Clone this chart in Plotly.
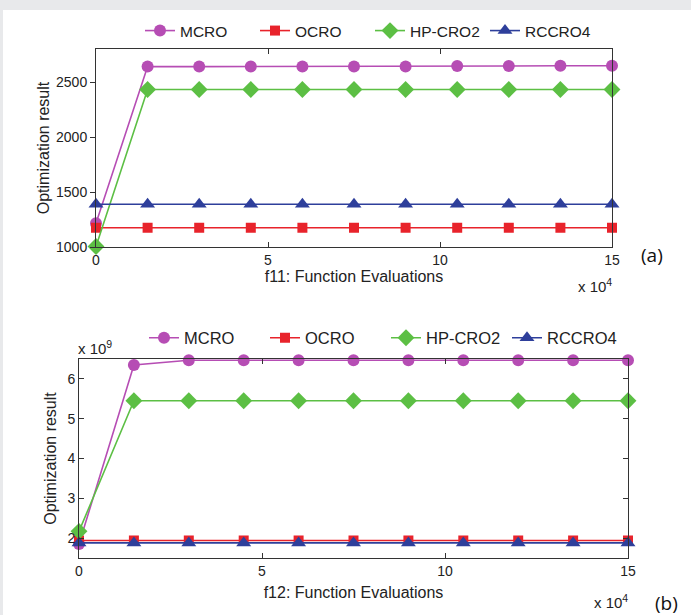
import plotly.graph_objects as go

# ---------------- data ----------------
evals = [0, 15000, 30000, 45000, 60000, 75000, 90000, 105000, 120000, 135000, 150000]
series_names = ["MCRO", "OCRO", "HP-CRO2", "RCCRO4"]

# (a) f11
f11_mcro = [1215, 2640, 2640, 2640, 2640, 2640, 2640, 2645, 2645, 2648, 2648]
f11_ocro = [1175, 1175, 1175, 1175, 1175, 1175, 1175, 1175, 1175, 1175, 1175]
f11_hpcro2 = [1005, 2432, 2432, 2432, 2432, 2432, 2432, 2432, 2432, 2432, 2432]
f11_rccro4 = [1388, 1388, 1388, 1388, 1388, 1388, 1388, 1388, 1388, 1388, 1388]

# (b) f12
f12_mcro = [1.85e9, 6.35e9, 6.47e9, 6.47e9, 6.47e9, 6.47e9, 6.47e9, 6.47e9, 6.47e9, 6.47e9, 6.47e9]
f12_ocro = [1.94e9, 1.94e9, 1.94e9, 1.94e9, 1.94e9, 1.94e9, 1.94e9, 1.94e9, 1.94e9, 1.94e9, 1.94e9]
f12_hpcro2 = [2.17e9, 5.45e9, 5.45e9, 5.45e9, 5.45e9, 5.45e9, 5.45e9, 5.45e9, 5.45e9, 5.45e9, 5.45e9]
f12_rccro4 = [1.88e9, 1.88e9, 1.88e9, 1.88e9, 1.88e9, 1.88e9, 1.88e9, 1.88e9, 1.88e9, 1.88e9, 1.88e9]

x_tickvals = [0, 50000, 100000, 150000]
x_ticktext = ["0", "5", "10", "15"]
ya_tickvals = [1000, 1500, 2000, 2500]
ya_ticktext = ["1000", "1500", "2000", "2500"]
yb_tickvals = [2e9, 3e9, 4e9, 5e9, 6e9]
yb_ticktext = ["2", "3", "4", "5", "6"]

# ---------------- style ----------------
W, H = 691, 615
colors = ["#b64db4", "#e8232b", "#5cbf44", "#2e3f9b"]
symbols = ["circle", "square", "diamond", "triangle-up"]
msizes = [12, 10, 13, 13]
FONT = "Liberation Sans, Arial, sans-serif"
TXT = "#222222"
LINE = "#333333"

def px_x(p):
    return p / W

def px_y(p):
    return 1 - p / H

fig = go.Figure()

sets = [
    ([f11_mcro, f11_ocro, f11_hpcro2, f11_rccro4], "x", "y", "legend"),
    ([f12_mcro, f12_ocro, f12_hpcro2, f12_rccro4], "x2", "y2", "legend2"),
]
for vals, xa, ya, lg in sets:
    for i, name in enumerate(series_names):
        fig.add_trace(go.Scatter(
            x=evals, y=vals[i], name=name, mode="lines+markers",
            xaxis=xa, yaxis=ya, legend=lg, cliponaxis=False,
            line=dict(color=colors[i], width=1.6),
            marker=dict(color=colors[i], symbol=symbols[i], size=msizes[i],
                        line=dict(width=0)),
        ))

tickfont = dict(family=FONT, size=14, color=TXT)
titlefont = dict(family=FONT, size=16, color=TXT)
axis_common = dict(
    showline=True, linecolor=LINE, linewidth=1, automargin=False,
    ticklen=5, tickcolor=LINE, showgrid=False,
    zeroline=False, tickfont=tickfont,
)

fig.update_layout(
    template="none",
    width=W, height=H,
    margin=dict(l=0, r=0, t=0, b=0, autoexpand=False),
    paper_bgcolor="#e8e9eb", plot_bgcolor="white",
    font=dict(family=FONT, size=15, color=TXT),
    xaxis=dict(domain=[px_x(96), px_x(612)], range=[0, 150000], anchor="y",
               tickvals=x_tickvals, ticktext=x_ticktext, ticks="inside", mirror="ticks",
               title=dict(text="f11: Function Evaluations", standoff=3, font=titlefont),
               **axis_common),
    yaxis=dict(domain=[px_y(247), px_y(49)], range=[1000, 2800], anchor="x",
               tickvals=ya_tickvals, ticktext=ya_ticktext, ticks="outside", mirror=True,
               title=dict(text="Optimization result", standoff=2, font=titlefont),
               **axis_common),
    yaxis3=dict(domain=[px_y(247), px_y(49)], range=[1000, 2800], anchor="x",
                overlaying="y", side="right", tickvals=ya_tickvals, automargin=False,
                ticks="inside", showticklabels=False, showline=False,
                ticklen=5, tickcolor=LINE, showgrid=False, zeroline=False),
    xaxis2=dict(domain=[px_x(79), px_x(628)], range=[0, 150000], anchor="y2",
                tickvals=x_tickvals, ticktext=x_ticktext, ticks="inside", mirror="ticks",
                title=dict(text="f12: Function Evaluations", standoff=9, font=titlefont),
                **axis_common),
    yaxis2=dict(domain=[px_y(558), px_y(359)], range=[1.5e9, 6.5e9], anchor="x2",
                tickvals=yb_tickvals, ticktext=yb_ticktext, ticks="inside", mirror="ticks",
                title=dict(text="Optimization result", standoff=6, font=titlefont),
                **axis_common),
    legend=dict(orientation="h", x=px_x(140), xanchor="left",
                y=px_y(31), yanchor="middle", bgcolor="rgba(0,0,0,0)",
                entrywidth=70, entrywidthmode="pixels",
                font=dict(family=FONT, size=15.5, color=TXT)),
    legend2=dict(orientation="h", x=px_x(144), xanchor="left",
                 y=px_y(338), yanchor="middle", bgcolor="rgba(0,0,0,0)",
                 entrywidth=76, entrywidthmode="pixels",
                 font=dict(family=FONT, size=16.5, color=TXT)),
    shapes=[dict(type="rect", xref="paper", yref="paper", layer="below",
                 x0=px_x(3), x1=1, y0=0, y1=px_y(10),
                 fillcolor="white", line=dict(width=0))],
    annotations=[
        dict(text="x 10<sup>4</sup>", xref="paper", yref="paper",
             x=px_x(614), y=px_y(285), xanchor="right", yanchor="middle",
             showarrow=False, font=dict(family=FONT, size=15, color=TXT)),
        dict(text="(a)", xref="paper", yref="paper",
             x=px_x(652), y=px_y(255), xanchor="center", yanchor="middle",
             showarrow=False, font=dict(family="Open Sans, sans-serif", size=19, color="#111")),
        dict(text="x 10<sup>9</sup>", xref="paper", yref="paper",
             x=px_x(76), y=px_y(347), xanchor="left", yanchor="middle",
             showarrow=False, font=dict(family=FONT, size=15, color=TXT)),
        dict(text="x 10<sup>4</sup>", xref="paper", yref="paper",
             x=px_x(630), y=px_y(601), xanchor="right", yanchor="middle",
             showarrow=False, font=dict(family=FONT, size=15, color=TXT)),
        dict(text="(b)", xref="paper", yref="paper",
             x=px_x(666), y=px_y(603), xanchor="center", yanchor="middle",
             showarrow=False, font=dict(family="Open Sans, sans-serif", size=19, color="#111")),
    ],
)

fig.write_html(
    "out.html",
    config={"displayModeBar": False},
    post_script="document.body.style.margin='0';document.body.style.padding='0';"
                "document.body.style.overflow='hidden';",
)
